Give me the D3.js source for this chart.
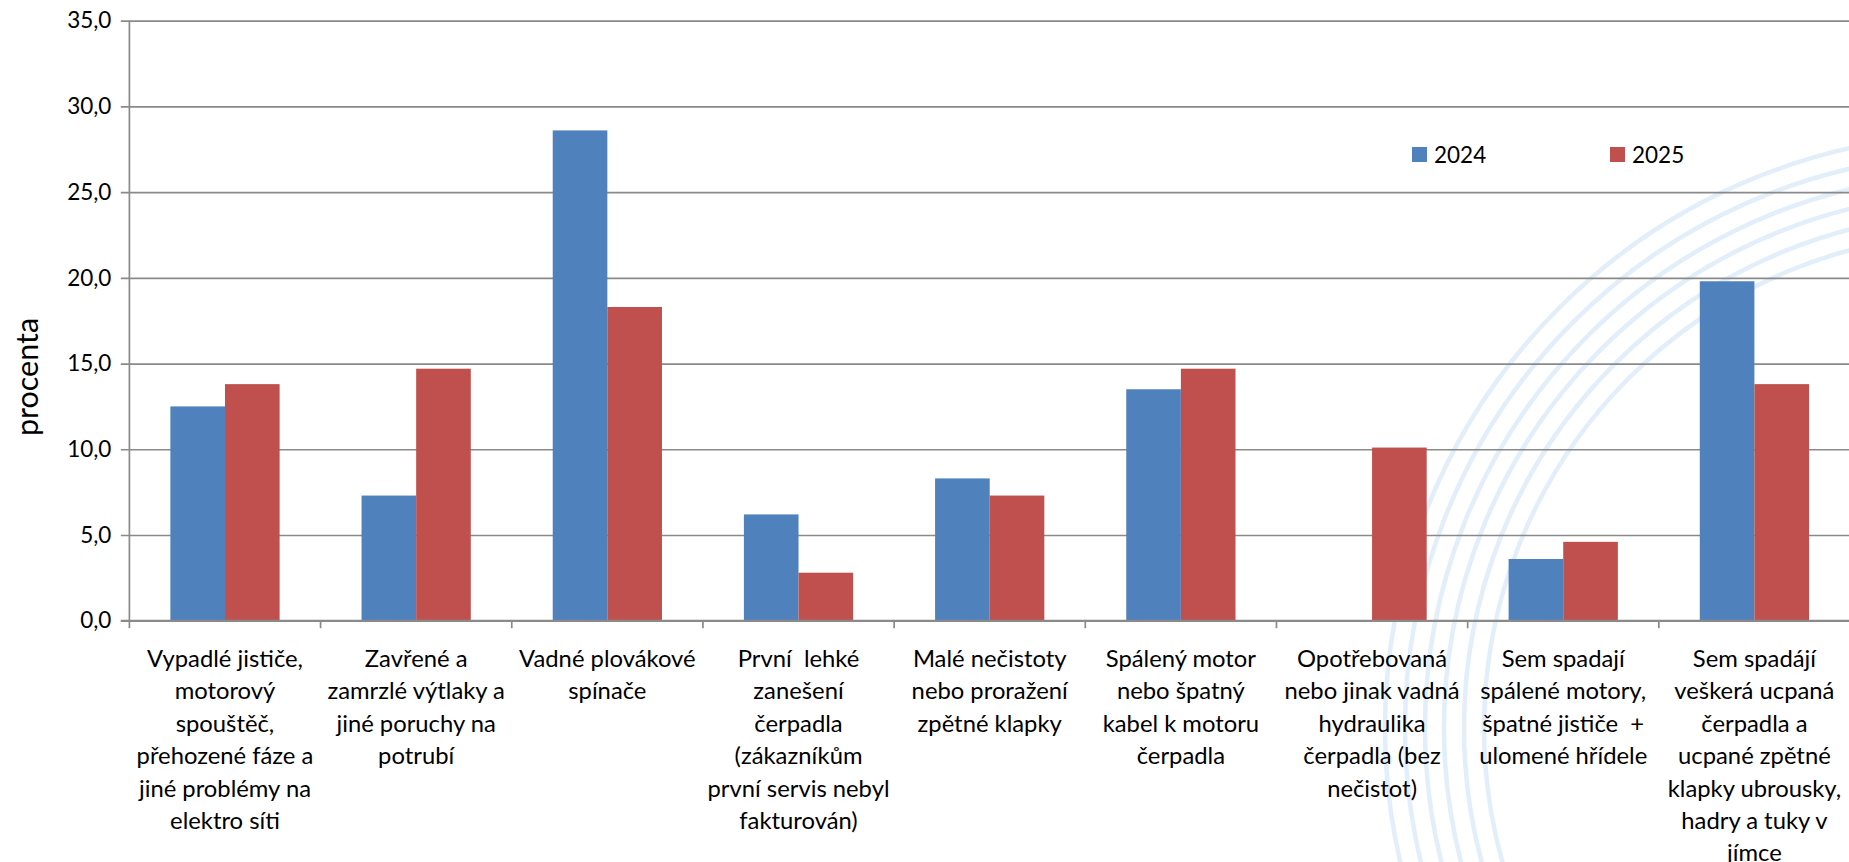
<!DOCTYPE html>
<html>
<head>
<meta charset="utf-8">
<script src="https://cdn.jsdelivr.net/npm/d3@7"></script>
<style>
  html, body { margin: 0; padding: 0; background: #fff; overflow: hidden; }
  svg { display: block; }
  text { font-family: Lato, "Open Sans", sans-serif; fill: #000; }
</style>
</head>
<body>
<svg id="chart" width="1849" height="862"></svg>
<script>
// ---- data ----
const categories = [
  ["Vypadlé jističe,", "motorový", "spouštěč,", "přehozené fáze a", "jiné problémy na", "elektro síti"],
  ["Zavřené a", "zamrzlé výtlaky a", "jiné poruchy na", "potrubí"],
  ["Vadné plovákové", "spínače"],
  ["První  lehké", "zanešení", "čerpadla", "(zákazníkům", "první servis nebyl", "fakturován)"],
  ["Malé nečistoty", "nebo proražení", "zpětné klapky"],
  ["Spálený motor", "nebo špatný", "kabel k motoru", "čerpadla"],
  ["Opotřebovaná", "nebo jinak vadná", "hydraulika", "čerpadla (bez", "nečistot)"],
  ["Sem spadají", "spálené motory,", "špatné jističe  +", "ulomené hřídele"],
  ["Sem spadájí", "veškerá ucpaná", "čerpadla a", "ucpané zpětné", "klapky ubrousky,", "hadry a tuky v", "jímce"]
];
const seriesNames = ["2024", "2025"];
const values2024 = [12.5, 7.3, 28.6, 6.2, 8.3, 13.5, 0, 3.6, 19.8];
const values2025 = [13.8, 14.7, 18.3, 2.8, 7.3, 14.7, 10.1, 4.6, 13.8];
const yTicks = [0, 5, 10, 15, 20, 25, 30, 35];
const yTitle = "procenta";
const seriesColors = ["#4F81BD", "#C0504D"];

(function () {
// ---- layout ----
const svg = d3.select("#chart");
const pLeft = 129.4, pRight = 1850, pTop = 20.7, pBottom = 620.7;
const catIdx = categories.map((d, i) => i);
const table = catIdx.map(i => ({ i, vals: [values2024[i], values2025[i]] }));

const x0 = d3.scaleBand().domain(catIdx).range([pLeft, pRight]).paddingInner(0).paddingOuter(0);
const x1 = d3.scaleBand().domain(seriesNames).range([0, x0.bandwidth()]).paddingInner(0).paddingOuter(0.75);
const y = d3.scaleLinear().domain([0, 35]).range([pBottom, pTop]);

// ---- background decorative arcs (watermark) ----
const arcG = svg.append("g");
const acx = 1979, acy = 728;
[594, 574, 554, 535, 515, 495].forEach(r => {
  arcG.append("circle").attr("cx", acx).attr("cy", acy).attr("r", r)
    .attr("fill", "none").attr("stroke", "#e2eefa").attr("stroke-width", 4.5);
});

// ---- gridlines + y axis ----
const fmt = d3.formatLocale({ decimal: ",", thousands: " ", grouping: [3], currency: ["", ""] }).format(".1f");
const yAxis = d3.axisLeft(y).tickValues(yTicks).tickFormat(fmt)
  .tickSizeInner(-(pRight - pLeft)).tickSizeOuter(0).tickPadding(18);
const gy = svg.append("g").attr("transform", `translate(${pLeft},0)`).call(yAxis);
gy.select(".domain").remove();
gy.selectAll(".tick line").attr("x1", -8.6).attr("stroke", "#8a8a8a").attr("stroke-width", 1.7);
gy.selectAll(".tick text").style("font-size", "22.5px").style("font-family", "Lato, sans-serif").attr("fill", "#000");

svg.append("line").attr("x1", pLeft).attr("x2", pLeft).attr("y1", pTop).attr("y2", pBottom)
  .attr("stroke", "#8a8a8a").attr("stroke-width", 1.7);

// ---- bars ----
const groups = svg.append("g").selectAll("g").data(table).join("g")
  .attr("transform", d => `translate(${x0(d.i)},0)`);
groups.selectAll("rect").data(d => d.vals.map((v, k) => ({ k, v }))).join("rect")
  .attr("x", d => x1(seriesNames[d.k]))
  .attr("width", x1.bandwidth())
  .attr("y", d => y(d.v))
  .attr("height", d => y(0) - y(d.v))
  .attr("fill", d => seriesColors[d.k]);

// ---- x axis ----
const xAxisLine = svg.append("g");
xAxisLine.append("line").attr("x1", pLeft - 8.6).attr("x2", pRight).attr("y1", pBottom).attr("y2", pBottom)
  .attr("stroke", "#8a8a8a").attr("stroke-width", 1.7);
xAxisLine.selectAll("line.tk").data(catIdx.concat([categories.length])).join("line").attr("class", "tk")
  .attr("x1", i => i < categories.length ? x0(i) : pRight)
  .attr("x2", i => i < categories.length ? x0(i) : pRight)
  .attr("y1", pBottom).attr("y2", pBottom + 7.5)
  .attr("stroke", "#8a8a8a").attr("stroke-width", 1.7);

const labels = svg.append("g").selectAll("text").data(table).join("text")
  .attr("text-anchor", "middle")
  .style("font-size", "23.8px")
  .style("white-space", "pre")
  .attr("x", d => x0(d.i) + x0.bandwidth() / 2)
  .attr("y", 667);
labels.selectAll("tspan").data(d => categories[d.i].map((t, j) => ({ t, j, cx: x0(d.i) + x0.bandwidth() / 2 })))
  .join("tspan")
  .attr("x", d => d.cx)
  .attr("y", d => 667 + d.j * 32.4)
  .text(d => d.t);

// ---- y title ----
svg.append("text")
  .attr("transform", "translate(38,377) rotate(-90)")
  .attr("text-anchor", "middle")
  .style("font-size", "30.5px")
  .text(yTitle);

// ---- legend ----
const legendX = [1412, 1610];
const lg = svg.append("g").selectAll("g").data(seriesNames).join("g")
  .attr("transform", (d, k) => `translate(${legendX[k]},147)`);
lg.append("rect").attr("width", 15).attr("height", 15).attr("fill", (d, k) => seriesColors[k]);
lg.append("text").attr("x", 22).attr("y", 16.3).style("font-size", "22.5px").text(d => d);
})();
</script>
</body>
</html>
